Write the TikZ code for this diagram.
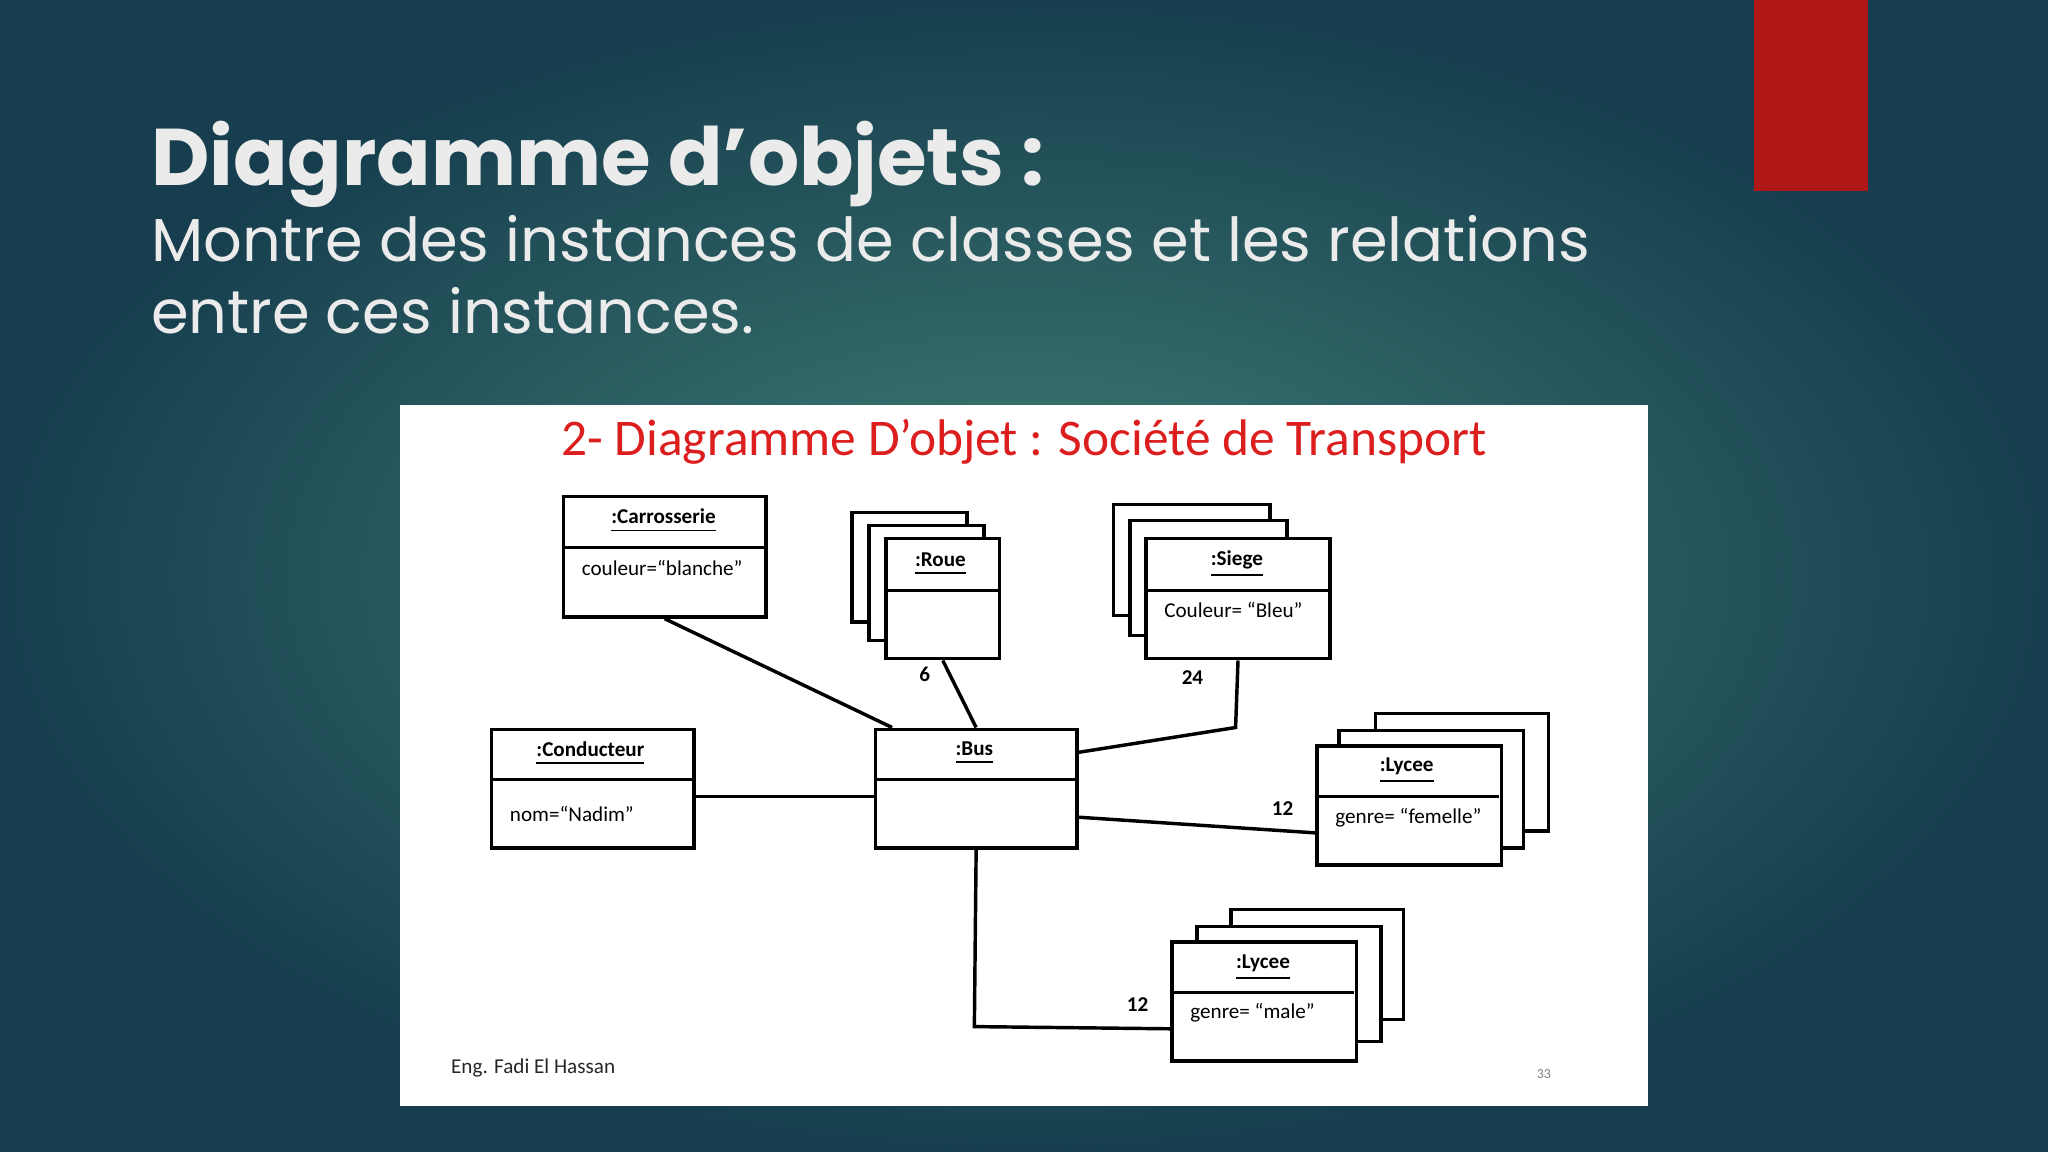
\documentclass[tikz,border=0pt]{standalone}
\usepackage{fontspec}
\setmainfont{Poppins}
\newfontfamily\calfont{Carlito}
\definecolor{bgin}{RGB}{66,128,118}
\definecolor{bgout}{RGB}{22,62,78}
\definecolor{redbar}{RGB}{176,23,23}
\definecolor{titred}{RGB}{220,30,30}
\begin{document}
\begin{tikzpicture}[x=0.01cm,y=-0.01cm,
  box/.style={draw=black,line width=0.75pt,fill=white,anchor=north west,inner sep=0pt},
  lbl/.style={font=\calfont\fontsize{4.6}{5}\selectfont\bfseries},
  att/.style={font=\calfont\fontsize{4.6}{5}\selectfont,anchor=west},
  num/.style={font=\calfont\fontsize{4.6}{5}\selectfont\bfseries},
  ln/.style={line width=0.75pt}]
\shade[inner color=bgin,outer color=bgout] (0,0) rectangle (1568,882);
\useasboundingbox (0,0) rectangle (1568,882);
\fill[redbar] (1343,0) rectangle (1430,146);
\node[anchor=base west,inner sep=0pt,text=white!92!black,font=\fontsize{17.5}{20}\selectfont\bfseries] (t) at (115,142) {Diagramme d'objets :};
\node[anchor=base west,inner sep=0pt,text=white!92!black,font=\fontsize{13.2}{15}\selectfont] (s1) at (115,200) {Montre des instances de classes et les relations};
\node[anchor=base west,inner sep=0pt,text=white!92!black,font=\fontsize{13.2}{15}\selectfont] (s2) at (115,255) {entre ces instances.};
\fill[white] (306,310) rectangle (1262,847);
\node[text=titred,font=\calfont\fontsize{11.2}{13}\selectfont] (dt) at (784,338) {2- Diagramme D’objet : Société de Transport};
% Carrosserie
\node[box,minimum width=1.55cm,minimum height=0.92cm] (car) at (430,379) {};
\draw[ln] (430,419) -- (585,419);
\node[lbl] at (508,399) {\underline{:Carrosserie}};
\node[att] at (433,435) {couleur=“blanche”};
% Roue
\node[box,minimum width=0.88cm,minimum height=0.84cm] (r3) at (651,391) {};
\node[box,minimum width=0.88cm,minimum height=0.88cm] (r2) at (664,401) {};
\node[box,minimum width=0.87cm,minimum height=0.92cm] (roue) at (677,411) {};
\draw[ln] (677,452) -- (764,452);
\node[lbl] at (720,432) {\underline{:Roue}};
% Siege
\node[box,minimum width=1.20cm,minimum height=0.85cm] (s3) at (851,385) {};
\node[box,minimum width=1.20cm,minimum height=0.88cm] (s2b) at (864,397) {};
\node[box,minimum width=1.41cm,minimum height=0.92cm] (siege) at (876,411) {};
\draw[ln] (876,452) -- (1017,452);
\node[lbl] at (947,432) {\underline{:Siege}};
\node[att] at (879,467) {Couleur= “Bleu”};
% Conducteur
\node[box,minimum width=1.55cm,minimum height=0.91cm] (cond) at (375,557) {};
\draw[ln] (375,597) -- (530,597);
\node[lbl] at (452,577) {\underline{:Conducteur}};
\node[att] at (378,623) {nom=“Nadim”};
% Bus
\node[box,minimum width=1.54cm,minimum height=0.91cm] (bus) at (669,557) {};
\draw[ln] (669,597) -- (823,597);
\node[lbl] at (746,577) {\underline{:Bus}};
% Lycee femelle
\node[box,minimum width=1.32cm,minimum height=0.90cm] (lf3) at (1052,545) {};
\node[box,minimum width=1.41cm,minimum height=0.90cm] (lf2) at (1024,558) {};
\node[box,minimum width=1.41cm,minimum height=0.91cm] (lf) at (1007,570) {};
\draw[ln] (1007,610) -- (1148,610);
\node[lbl] at (1077,590) {\underline{:Lycee}};
\node[att] at (1010,626) {genre= “femelle”};
% Lycee male
\node[box,minimum width=1.32cm,minimum height=0.84cm] (lm3) at (941,695) {};
\node[box,minimum width=1.41cm,minimum height=0.88cm] (lm2) at (915,708) {};
\node[box,minimum width=1.41cm,minimum height=0.91cm] (lm) at (896,720) {};
\draw[ln] (896,760) -- (1037,760);
\node[lbl] at (967,741) {\underline{:Lycee}};
\node[att] at (899,775) {genre= “male”};
% connectors
\draw[ln] (car.south) -- ([xshift=0.14cm]bus.north west);
\draw[ln] (roue.south) -- (bus.north);
\node[num] (n6) at (708,516) {6};
\draw[ln] (siege.south) -- (946,557) -- ([yshift=-0.19cm]bus.north east);
\node[num] (n24) at (913,519) {24};
\draw[ln] ([yshift=0.41cm]cond.south east) -- ([yshift=0.41cm]bus.south west);
\draw[ln] ([yshift=0.25cm]bus.south east) -- ([yshift=0.26cm]lf.south west);
\node[num] (n12a) at (982,619) {12};
\draw[ln] (bus.south) -- (746,786) -- ([yshift=0.26cm]lm.south west);
\node[num] (n12b) at (871,769) {12};
\node[anchor=west,font=\calfont\fontsize{4.6}{5}\selectfont,text=black!85] (eng) at (333,818) {Eng. Fadi El Hassan};
\node[font=\calfont\fontsize{3}{4}\selectfont,text=black!50] (pg) at (1182,822) {33};
\end{tikzpicture}
\end{document}
